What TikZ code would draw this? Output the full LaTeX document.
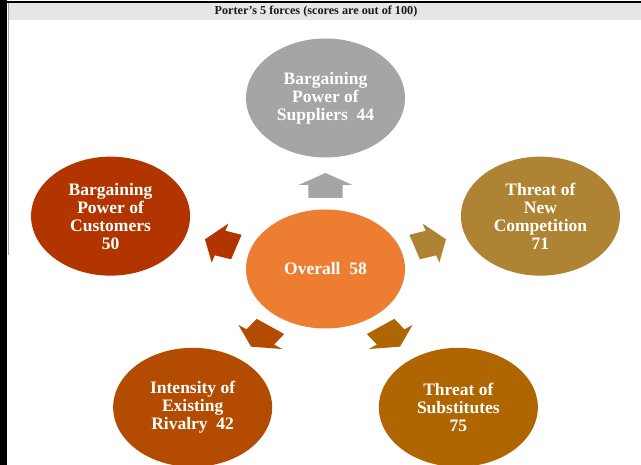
\documentclass[tikz,border=0pt]{standalone}
\usepackage{fontspec}
\setmainfont{Liberation Serif}
\usetikzlibrary{shapes.geometric}
\definecolor{cCenter}{HTML}{ED7D31}
\definecolor{cTop}{HTML}{A5A5A5}
\definecolor{cCust}{HTML}{B23500}
\definecolor{cNew}{HTML}{AE8333}
\definecolor{cRiv}{HTML}{B34C00}
\definecolor{cSub}{HTML}{AF6500}
\definecolor{cBar}{HTML}{E7E6E6}
\tikzset{
  force/.style={ellipse, draw=none, minimum width=159pt, minimum height=119pt,
    inner sep=0pt, align=center, text=white,
    font=\fontsize{17.5}{18}\selectfont\bfseries},
  blockarrow/.style={draw=none}
}
\begin{document}
\begin{tikzpicture}[x=1pt,y=1pt]
\useasboundingbox (0,0) rectangle (641,465);
\fill[white] (0,0) rectangle (641,465);
% frame
\fill[black] (0,0) rectangle (7,465);
\fill[black] (0,462) rectangle (641,463.6);
\fill[cBar] (8,445) rectangle (641,462);
\fill[gray!70] (7.6,210) rectangle (8.6,462);
\node[font=\fontsize{12.2}{13}\selectfont\bfseries, text=black!90] (title) at (316,453.5) {Porter's 5 forces (scores are out of 100)};
% nodes
\coordinate (c) at (325.5,196);
\node[force, fill=cCenter] (center) at (c) {Overall~ 58};
\node[force, fill=cTop] (sup) at ({325.5+226*cos(90)},{196+171*sin(90)}) {Bargaining\\Power of\\Suppliers~ 44};
\node[force, fill=cCust] (cust) at ({325.5+226*cos(162)},{196+171*sin(162)}) {Bargaining\\Power of\\Customers\\50};
\node[force, fill=cNew] (new) at ({325.5+226*cos(18)},{196+171*sin(18)}) {Threat of\\New\\Competition\\71};
\node[force, fill=cRiv] (riv) at ({325.5+226*cos(234)},{196+171*sin(234)}) {Intensity of\\Existing\\Rivalry~ 42};
\node[force, fill=cSub] (sub) at ({325.5+226*cos(306)},{196+171*sin(306)}) {Threat of\\Substitutes\\75};
% block arrows
\begin{scope}[shift={(center.center)}, xscale=1.32]
\foreach \ang/\col in {90/cTop,162/cCust,18/cNew,234/cRiv,306/cSub}{
  \fill[blockarrow, fill=\col, rotate=\ang] (96,0) -- (84,20.5) -- (84,12.9) -- (71,12.9) -- (71,-12.9) -- (84,-12.9) -- (84,-20.5) -- cycle;
}
\end{scope}
\end{tikzpicture}
\end{document}
